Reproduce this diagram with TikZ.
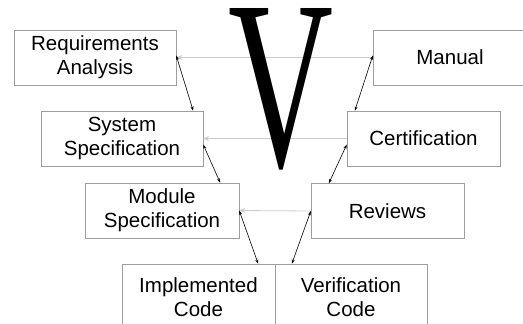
\documentclass[tikz,border=0pt]{standalone}
\usepackage{fontspec}
\setmainfont{Liberation Sans}
\newfontfamily\vfont{Liberation Serif}
\usetikzlibrary{arrows.meta}

\begin{document}
\begin{tikzpicture}[x=1pt, y=-1pt,
        phase/.style={draw=black!38, align=center, inner sep=0pt, minimum width=154pt, minimum height=55pt, font=\fontsize{20.5}{24}\selectfont},
        link/.style={{Stealth[length=4.5pt,width=3pt]}-{Stealth[length=4.5pt,width=3pt]}, line width=0.6pt},
        trace/.style={-{Stealth[length=6pt,width=5pt]}, draw=black!20, line width=0.8pt}]
        \useasboundingbox (0,0) rectangle (523,324);
        \clip (0,0) rectangle (523,324);

        \node[phase, minimum width=162pt] (req) at (95,57.5) {Requirements\\Analysis};
        \node[phase, minimum width=162pt] (sys) at (122,138.5) {System\\Specification};
        \node[phase] (mod) at (162,210.5) {Module\\Specification};
        \node[phase, minimum width=153pt, minimum height=66pt] (impl) at (198.5,297) {Implemented\\Code};
        \node[phase, minimum width=152pt, minimum height=66pt] (verif) at (351,297) {Verification\\Code};
        \node[phase, minimum width=153pt] (rev) at (387.5,211) {Reviews};
        \node[phase, minimum width=153pt] (cert) at (423.5,138.5) {Certification};
        \node[phase] (man) at (450,57.5) {Manual};

        \draw[trace] (man.west) -- (req.east);
        \draw[trace] (cert.west) -- (sys.east);
        \draw[trace] (rev.west) -- (mod.east);

        \node[inner sep=0pt, anchor=north west] (vletter) at (228,8) {\resizebox{105pt}{158pt}{\vfont V}};

        \draw[link] ([yshift=2pt]req.east) -- ([xshift=-10pt]sys.north east);
        \draw[link] ([yshift=-6pt]sys.east) -- ([xshift=-19pt]mod.north east);
        \draw[link] (mod.east) -- ([xshift=-17pt]impl.north east);
        \draw[link] ([yshift=2pt]man.west) -- ([xshift=8pt]cert.north west);
        \draw[link] ([yshift=-6pt]cert.west) -- ([xshift=18pt]rev.north west);
        \draw[link] (rev.west) -- ([xshift=17pt]verif.north west);
    \end{tikzpicture}
\end{document}
